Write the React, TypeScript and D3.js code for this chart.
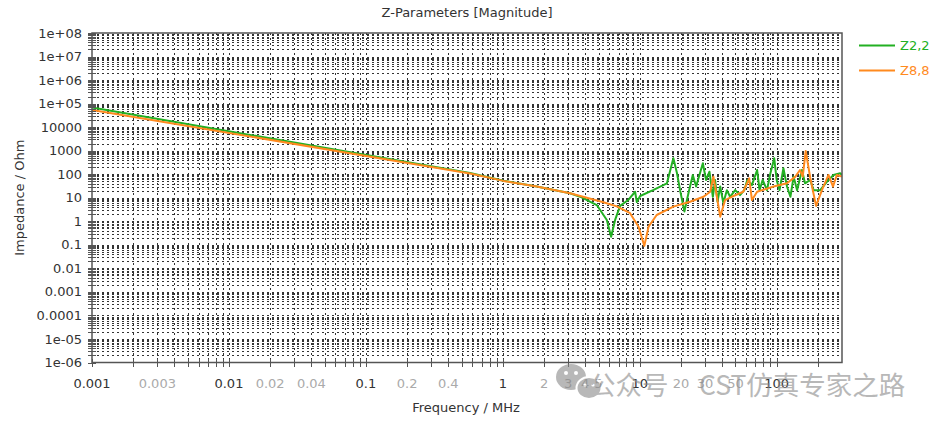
import * as d3 from "d3";

// impedance magnitude: [frequency MHz, |Z| Ohm]
const z22: [number, number][] = [
  [0.001, 68000], [0.577, 112], [1.01, 53], [1.77, 30], [3.1, 15.5], [3.67, 11.1],
  [4.86, 4.9], [5.75, 1.14], [6.18, 0.22], [6.61, 1.14], [7.19, 4.5], [8.23, 8],
  [9.25, 18], [9.52, 6.6], [10.07, 11.9], [12.5, 21], [15.8, 41], [17.6, 475],
  [18.7, 113], [19.7, 21], [21.2, 2.6], [22.7, 16], [24.4, 93], [25.8, 30],
  [28.9, 292], [30.5, 57], [32.3, 128], [34.2, 11], [35.5, 57], [37, 6.8],
  [38.7, 30], [40.8, 6], [43.3, 21], [45.7, 11], [49.8, 21], [54, 13], [58, 21],
  [61, 57], [66, 35], [72, 151], [75, 21], [79, 57], [85, 21], [90, 110],
  [96, 475], [100, 57], [105, 21], [112, 179], [119, 30], [126, 11], [133, 79],
  [141, 21], [153, 151], [161, 41], [176, 57], [186, 21], [208, 21], [233, 48],
  [260, 93], [291, 110], [300, 93],
];

const z88: [number, number][] = [
  [0.001, 54000], [0.577, 108], [1.01, 52], [1.77, 30], [3.1, 15.5], [5.43, 6.4],
  [6.8, 4.3], [8.5, 2.2], [9.8, 0.59], [10.8, 0.09], [11.6, 0.59], [13.3, 1.85],
  [17.6, 4.2], [23.3, 6.8], [29.2, 11], [32.7, 18], [34.5, 79], [36.6, 11],
  [38.7, 1.57], [42, 8], [47, 11], [57, 18], [63, 67], [66, 8], [72, 18],
  [95, 30], [119, 41], [137, 79], [148, 151], [155, 79], [163, 970], [176, 69],
  [194, 4.5], [214, 21], [239, 93], [258, 30], [275, 93], [300, 79],
];

const xMajorLabels = [0.001, 0.01, 0.1, 1, 10, 100];
const xMinorLabels = [0.003, 0.02, 0.04, 0.2, 0.4, 2, 3, 4, 5, 20, 30, 50];
const yTickLabels = [
  "1e-06", "1e-05", "0.0001", "0.001", "0.01", "0.1", "1", "10", "100",
  "1000", "10000", "1e+05", "1e+06", "1e+07", "1e+08",
];

const series = [
  { name: "Z2,2", color: "#22b022", values: z22 },
  { name: "Z8,8", color: "#ff8a1e", values: z88 },
];

const FONT = "'DejaVu Sans', sans-serif";

export default function App() {
  const width = 940;
  const height = 422;
  const plot = { left: 92, right: 842, top: 33, bottom: 362.5 };

  const x = d3.scaleLog().domain([0.001, 300]).range([plot.left, plot.right]);
  const y = d3.scaleLog().domain([1e-6, 1e8]).range([plot.bottom, plot.top]);

  const xTicks = x.ticks().filter((v) => v > 0.0010001 && v < 299.99);
  const yTicks = y.ticks(20).filter((v) => v > 1.0001e-6 && v < 0.9999e8);
  const crisp = (p: number) => Math.round(p) + 0.5;

  const line = d3
    .line<[number, number]>()
    .x((d) => x(d[0]))
    .y((d) => y(d[1]));

  return (
    <div style={{ position: "absolute", left: 0, top: 0 }}>
      <svg width={width} height={height} style={{ display: "block", background: "#fff" }}>
        <defs>
          <clipPath id="plotClip">
            <rect x={plot.left} y={plot.top} width={plot.right - plot.left} height={plot.bottom - plot.top} />
          </clipPath>
        </defs>

        <text x={467} y={17} textAnchor="middle" fontFamily={FONT} fontSize={13} fill="#333">
          Z-Parameters [Magnitude]
        </text>

        {/* grid */}
        <g stroke="#333" strokeWidth={1} strokeDasharray="2,3" shapeRendering="crispEdges">
          {xTicks.map((v) => (
            <line key={"gx" + v} x1={crisp(x(v))} x2={crisp(x(v))} y1={plot.top} y2={plot.bottom} />
          ))}
          {yTicks.map((v) => (
            <line key={"gy" + v} x1={plot.left} x2={plot.right} y1={crisp(y(v))} y2={crisp(y(v))} />
          ))}
        </g>

        {/* curves */}
        <g clipPath="url(#plotClip)" fill="none" strokeWidth={2} strokeLinejoin="round">
          {series.map((s) => (
            <path key={s.name} d={line(s.values) ?? ""} stroke={s.color} />
          ))}
        </g>

        {/* frame and axes */}
        <rect
          x={plot.left}
          y={plot.top}
          width={plot.right - plot.left}
          height={plot.bottom - plot.top}
          fill="none"
          stroke="#555"
          strokeWidth={1.5}
        />
        <g stroke="#555" strokeWidth={1} shapeRendering="crispEdges">
          {[0.001, ...xTicks].map((v) => (
            <line key={"tx" + v} x1={crisp(x(v))} x2={crisp(x(v))} y1={plot.bottom - 4} y2={plot.bottom + 4} />
          ))}
          {[1e-6, ...yTicks, 1e8].map((v) => (
            <line key={"ty" + v} x1={plot.left - 4} x2={plot.left + 4} y1={crisp(y(v))} y2={crisp(y(v))} />
          ))}
        </g>

        {/* y tick labels */}
        <g fontFamily={FONT} fontSize={13} fill="#333" textAnchor="end">
          {yTickLabels.map((t, i) => (
            <text key={t} x={82} y={y(Math.pow(10, i - 6))} dy="0.35em">
              {t}
            </text>
          ))}
        </g>

        {/* x tick labels */}
        <g fontFamily={FONT} fontSize={13} textAnchor="middle">
          {xMajorLabels.map((v) => (
            <text key={"mx" + v} x={x(v)} y={388} fill="#333">
              {String(v)}
            </text>
          ))}
          {xMinorLabels.map((v) => (
            <text key={"nx" + v} x={x(v)} y={388} fill="#aaa">
              {String(v)}
            </text>
          ))}
        </g>

        <text x={466} y={412} textAnchor="middle" fontFamily={FONT} fontSize={13} fill="#333">
          Frequency / MHz
        </text>
        <text
          transform={`translate(24,${(plot.top + plot.bottom) / 2}) rotate(-90)`}
          textAnchor="middle"
          fontFamily={FONT}
          fontSize={13}
          fill="#333"
        >
          Impedance / Ohm
        </text>

        {/* legend */}
        {series.map((s, i) => (
          <g key={"lg" + s.name} transform={`translate(0,${45.5 + i * 25})`}>
            <line x1={859} x2={895} y1={0} y2={0} stroke={s.color} strokeWidth={2} />
            <text x={900} y={0} dy="0.35em" fontFamily={FONT} fontSize={13} fill={s.color}>
              {s.name}
            </text>
          </g>
        ))}

        {/* watermark */}
        <g opacity={0.6} fill="#8a8a8a">
          <ellipse cx={571} cy={377} rx={15} ry={13} />
          <ellipse cx={589} cy={388} rx={12.5} ry={11} stroke="#fff" strokeWidth={2} />
          <circle cx={566} cy={373} r={2} fill="#fff" />
          <circle cx={576} cy={373} r={2} fill="#fff" />
          <circle cx={585} cy={385} r={1.6} fill="#fff" />
          <circle cx={593} cy={385} r={1.6} fill="#fff" />
          <text x={589} y={395} fontFamily="'Noto Sans CJK SC', sans-serif" fontSize={26.5}>
            公众号
          </text>
          <text x={699} y={395} fontFamily="'Noto Sans CJK SC', sans-serif" fontSize={26.5}>
            CST仿真专家之路
          </text>
        </g>
      </svg>
    </div>
  );
}
